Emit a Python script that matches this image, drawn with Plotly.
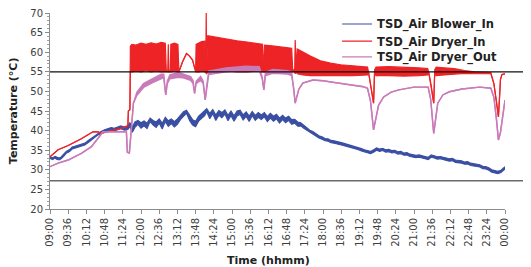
import pandas as pd
import plotly.graph_objects as go

# ---- data (minutes after 09:00, temperature in °C) ----
blue_t = [0, 5, 10, 13, 18, 22, 27, 32, 38, 44, 49, 55, 62, 69, 75, 82, 88, 95, 101, 108,
          114, 121, 127, 134, 140, 147, 154, 158, 163, 168, 174, 180, 186, 192, 198, 204, 210,
          216, 222, 228, 234, 240, 246, 252, 258, 264, 270, 276, 282, 288, 294, 300, 306, 310,
          316, 322, 328, 334, 340, 346, 352, 358, 364, 370, 376, 382, 388, 394, 400, 406, 412,
          418, 424, 430, 436, 442, 448, 454, 460, 466, 472, 478, 484, 490, 496, 502, 508, 514,
          520, 526, 532, 538, 544, 550, 556, 562, 568, 574, 580, 586, 592, 598, 604, 610, 616,
          622, 628, 634, 640, 646, 652, 658, 664, 670, 676, 682, 688, 694, 700, 706, 712, 718,
          724, 730, 736, 742, 748, 754, 760, 766, 772, 778, 784, 790, 796, 802, 808, 814, 820,
          826, 832, 838, 844, 850, 856, 862, 868, 874, 880, 886, 892, 896, 900]
blue_lo = [32.9, 32.6, 33.0, 32.7, 32.5, 32.8, 33.4, 34.2, 34.6, 35.3, 35.5, 35.8, 36.0, 36.3,
           36.9, 37.6, 38.2, 38.9, 39.2, 39.7, 39.9, 40.2, 39.9, 40.2, 40.5, 40.1, 40.3, 41.0,
           39.6, 40.8, 41.6, 40.6, 41.2, 40.5, 42.3, 41.4, 40.8, 41.9, 40.4, 42.3, 41.1, 41.8,
           40.9, 41.6, 42.8, 43.6, 44.4, 42.6, 41.4, 41.0, 42.4, 43.1, 43.8, 44.8, 43.0, 44.3,
           42.6, 43.9, 43.3, 44.2, 42.5, 43.8, 42.4, 43.7, 44.1, 42.7, 43.6, 42.3, 43.8, 42.6,
           43.4, 42.8, 43.5, 42.3, 43.2, 42.4, 43.0, 41.9, 42.8, 42.0, 42.6, 41.6, 41.9, 41.1,
           41.2, 40.6, 40.1, 39.5, 39.2, 38.6, 38.1, 37.8, 37.4, 37.3, 36.9, 36.8, 36.5, 36.4,
           36.2, 36.0, 35.8, 35.6, 35.3, 35.1, 34.8, 34.5, 34.2, 34.1, 34.5, 35.0, 34.7, 34.9,
           34.5, 34.6, 34.3, 34.4, 34.0, 34.1, 33.7, 33.8, 33.4, 33.3, 33.1, 33.2, 32.9, 32.8,
           32.6, 33.2, 33.0, 32.7, 32.8, 32.5, 32.4, 32.2, 32.3, 31.9, 31.8, 31.7, 31.4, 31.5,
           31.1, 31.0, 30.8, 30.7, 30.3, 30.2, 29.9, 29.4, 29.2, 29.0, 29.3, 29.8, 30.2]
blue_hi = [33.3, 33.1, 33.4, 33.2, 33.0, 33.3, 33.9, 34.7, 35.1, 35.8, 36.0, 36.3, 36.5, 36.8,
           37.4, 38.1, 38.7, 39.4, 39.8, 40.2, 40.5, 40.8, 40.6, 40.9, 41.2, 40.9, 41.3, 42.0,
           41.0, 42.2, 42.6, 42.0, 42.5, 41.9, 43.2, 42.6, 42.2, 43.0, 41.9, 43.4, 42.5, 43.0,
           42.3, 43.0, 44.0, 44.8, 45.2, 44.0, 42.8, 42.4, 43.7, 44.4, 45.0, 45.6, 44.4, 45.4,
           44.0, 45.1, 44.6, 45.3, 43.9, 45.0, 43.8, 45.0, 45.2, 44.0, 44.8, 43.7, 44.9, 43.9,
           44.6, 44.0, 44.6, 43.6, 44.4, 43.7, 44.2, 43.2, 43.9, 43.2, 43.7, 42.8, 42.9, 42.2,
           42.0, 41.3, 40.7, 40.1, 39.8, 39.2, 38.7, 38.4, 38.0, 37.9, 37.5, 37.4, 37.1, 37.0,
           36.8, 36.6, 36.4, 36.2, 35.9, 35.7, 35.4, 35.1, 34.8, 34.7, 35.1, 35.6, 35.3, 35.5,
           35.1, 35.2, 34.9, 35.0, 34.6, 34.7, 34.3, 34.4, 34.0, 33.9, 33.7, 33.8, 33.5, 33.4,
           33.2, 33.8, 33.6, 33.3, 33.4, 33.1, 33.0, 32.8, 32.9, 32.5, 32.4, 32.3, 32.0, 32.1,
           31.7, 31.6, 31.4, 31.3, 30.9, 30.8, 30.5, 30.0, 29.8, 29.6, 29.9, 30.4, 30.8]

red_t = [0, 6, 16, 36, 62, 85, 95, 101, 115, 141, 151, 154, 155, 158, 159, 162, 170, 180, 190,
         200, 210, 220, 228, 230, 233, 234, 235, 238, 239, 246, 253, 255, 262, 270, 276, 282,
         285, 288, 289, 295, 300, 306, 308, 309, 310, 312, 330, 350, 370, 390, 410, 420, 422,
         424, 440, 460, 478, 480, 484, 485, 487, 489, 500, 515, 535, 555, 575, 600, 628, 630,
         635, 640, 642, 645, 670, 700, 730, 747, 749, 754, 759, 761, 764, 780, 800, 820, 840,
         872, 878, 883, 887, 889, 891, 894, 900]
red_lo = [33.3, 34.0, 35.1, 36.2, 37.9, 39.7, 39.7, 39.3, 39.7, 40.6, 41.0, 41.2, 45.0, 45.3,
          55.0, 55.0, 55.2, 55.0, 55.3, 55.0, 55.2, 55.0, 55.1, 55.0, 55.0, 55.0, 55.0, 55.0,
          55.0, 55.2, 55.0, 55.0, 57.5, 59.7, 59.0, 58.0, 56.5, 55.0, 55.0, 55.0, 55.2, 55.0,
          55.0, 54.5, 54.5, 55.0, 55.0, 55.2, 55.0, 55.0, 55.2, 55.0, 55.0, 55.0, 55.0, 55.2,
          55.0, 55.0, 55.0, 54.5, 55.0, 54.5, 54.2, 54.0, 54.0, 53.9, 53.9, 54.0, 54.2, 55.0,
          51.0, 47.0, 54.5, 54.0, 54.0, 53.9, 54.0, 54.2, 55.0, 51.5, 47.0, 54.5, 54.0, 54.2,
          54.4, 54.6, 54.5, 54.5, 52.0, 47.5, 43.5, 48.0, 53.0, 54.3, 54.5]
red_hi = [33.3, 34.0, 35.1, 36.2, 37.9, 39.7, 39.7, 39.3, 39.7, 40.6, 41.0, 41.2, 45.0, 45.3,
          61.5, 62.0, 61.8, 62.3, 62.0, 62.4, 62.1, 62.5, 62.3, 55.4, 55.4, 62.0, 55.4, 55.4,
          62.0, 62.3, 62.0, 55.0, 57.5, 59.7, 59.0, 58.0, 56.5, 55.0, 62.0, 62.5, 62.7, 62.8,
          55.5, 70.0, 55.5, 64.2, 63.8, 63.2, 62.9, 62.6, 62.3, 62.0, 55.0, 61.8, 61.6, 61.3,
          61.0, 55.5, 55.5, 63.1, 55.5, 60.8, 60.0, 59.0, 57.8, 57.2, 56.8, 56.5, 56.2, 55.0,
          51.0, 47.0, 55.5, 56.2, 56.3, 56.2, 56.0, 55.8, 55.0, 51.5, 47.0, 55.5, 56.2, 56.0,
          55.8, 55.3, 55.0, 54.8, 52.0, 47.5, 43.5, 48.0, 53.0, 54.3, 54.5]

purple_t = [0, 16, 36, 62, 82, 95, 105, 128, 148, 151, 153, 157, 159, 162, 165, 172, 185, 204,
            220, 225, 227, 229, 232, 237, 254, 265, 278, 283, 286, 289, 298, 303, 307, 310, 314,
            348, 388, 414, 420, 423, 426, 440, 470, 478, 482, 485, 492, 500, 520, 540, 560, 590,
            620, 628, 634, 640, 644, 650, 660, 675, 690, 720, 748, 753, 759, 762, 767, 777, 790,
            815, 850, 872, 878, 883, 887, 891, 896, 900]
purple_lo = [30.8, 31.7, 32.5, 34.2, 35.9, 38.0, 39.7, 39.7, 39.7, 40.0, 34.5, 34.3, 38.0, 42.7,
             47.0, 49.0, 51.0, 52.3, 53.2, 53.5, 51.0, 49.1, 52.0, 53.2, 53.6, 53.4, 52.8, 52.0,
             49.5, 52.0, 52.8, 52.0, 47.8, 51.0, 54.3, 55.0, 55.4, 55.3, 53.0, 50.4, 54.0, 54.6,
             54.4, 54.0, 51.0, 47.0, 50.5, 52.1, 52.9, 52.7, 52.3, 51.8, 51.2, 50.8, 47.5, 40.2,
             42.5, 46.5, 48.6, 49.8, 50.4, 51.1, 51.1, 48.0, 39.3, 42.7, 47.0, 49.1, 49.9, 50.6,
             51.1, 50.8, 48.5, 43.0, 37.6, 39.5, 44.5, 47.8]
purple_hi = [30.8, 31.7, 32.5, 34.2, 35.9, 38.0, 39.7, 39.7, 39.7, 40.0, 34.5, 34.3, 38.0, 42.7,
             47.0, 49.8, 52.0, 53.3, 54.4, 54.4, 51.5, 49.1, 52.6, 54.2, 54.8, 54.4, 53.8, 52.8,
             49.5, 52.6, 53.8, 52.6, 47.8, 51.5, 55.2, 56.0, 56.4, 56.3, 53.5, 50.4, 54.8, 55.6,
             55.3, 54.9, 51.0, 47.0, 50.5, 52.1, 52.9, 52.7, 52.3, 51.8, 51.2, 50.8, 47.5, 40.2,
             42.5, 46.5, 48.6, 49.8, 50.4, 51.1, 51.1, 48.0, 39.3, 42.7, 47.0, 49.1, 49.9, 50.6,
             51.1, 50.8, 48.5, 43.0, 37.6, 39.5, 44.5, 47.8]

upper_limit = 55.0
lower_limit = 27.2

names = ["TSD_Air Blower_In", "TSD_Air Dryer_In", "TSD_Air Dryer_Out"]
colors = ["#3A4FA3", "#EE2326", "#C97BB9"]

base = pd.Timestamp("2024-01-01 09:00")


def to_time(mins):
    return [base + pd.Timedelta(minutes=m) for m in mins]


series = [
    (blue_t, blue_lo, blue_hi, 1.1),
    (red_t, red_lo, red_hi, 1.2),
    (purple_t, purple_lo, purple_hi, 1.4),
]
legend_ids = ["legend", "legend2", "legend3"]

fig = go.Figure()
for i, (t, lo, hi, w) in enumerate(series):
    x = to_time(t)
    fig.add_trace(go.Scatter(x=x, y=lo, mode="lines", name="<b>" + names[i] + "</b>",
                             legend=legend_ids[i],
                             line=dict(color=colors[i], width=w)))
    fig.add_trace(go.Scatter(x=x, y=hi, mode="lines", showlegend=False,
                             line=dict(color=colors[i], width=w), fill="tonexty",
                             fillcolor=colors[i]))

fig.add_shape(type="line", xref="paper", yref="y", x0=0, x1=1.06, y0=upper_limit,
              y1=upper_limit, line=dict(color="#111111", width=1.3))
fig.add_shape(type="line", xref="paper", yref="y", x0=0, x1=1.06, y0=lower_limit,
              y1=lower_limit, line=dict(color="#6a6a6a", width=1.6))

font = "DejaVu Sans, Verdana, sans-serif"
leg_common = dict(x=0.631, xanchor="left", yanchor="middle", bgcolor="rgba(0,0,0,0)",
                  font=dict(size=11.5, color="#222222"), itemwidth=30)
# the page places the figure 8px from the window's top-left corner
fig.update_layout(
    width=523, height=259,
    margin=dict(l=42, r=26, t=5, b=58, autoexpand=False),
    paper_bgcolor="white", plot_bgcolor="white",
    font=dict(family=font, size=10, color="#404040"),
    showlegend=True,
    legend=dict(y=0.944, **leg_common),
    legend2=dict(y=0.857, **leg_common),
    legend3=dict(y=0.776, **leg_common),
    xaxis=dict(type="date", range=[base, base + pd.Timedelta(minutes=900)],
               tick0=base, dtick=36 * 60 * 1000, tickformat="%H:%M", tickangle=-90,
               automargin=False, ticklabeloverflow="allow",
               showgrid=False, zeroline=False, showline=True, linecolor="#8c8c8c",
               ticks="outside", ticklen=4, tickcolor="#8c8c8c",
               tickfont=dict(size=10, color="#404040")),
    yaxis=dict(range=[20, 70], dtick=5, showgrid=False, zeroline=False, showline=True,
               automargin=False, ticklabeloverflow="allow",
               linecolor="#8c8c8c", ticks="outside", ticklen=4, tickcolor="#8c8c8c",
               tickfont=dict(size=10, color="#404040"),
               minor=dict(dtick=1, ticks="outside", ticklen=2, tickcolor="#a0a0a0")),
    annotations=[
        dict(text="<b>Time (hhmm)</b>", xref="paper", yref="paper", x=0.481, y=-0.265,
             xanchor="center", yanchor="middle", showarrow=False,
             font=dict(size=11, color="#222222")),
        dict(text="<b>Temperature (°C)</b>", xref="paper", yref="paper", x=-0.081, y=0.5,
             xanchor="center", yanchor="middle", textangle=-90, showarrow=False,
             font=dict(size=11, color="#222222")),
    ],
)

fig.write_html("out.html")
